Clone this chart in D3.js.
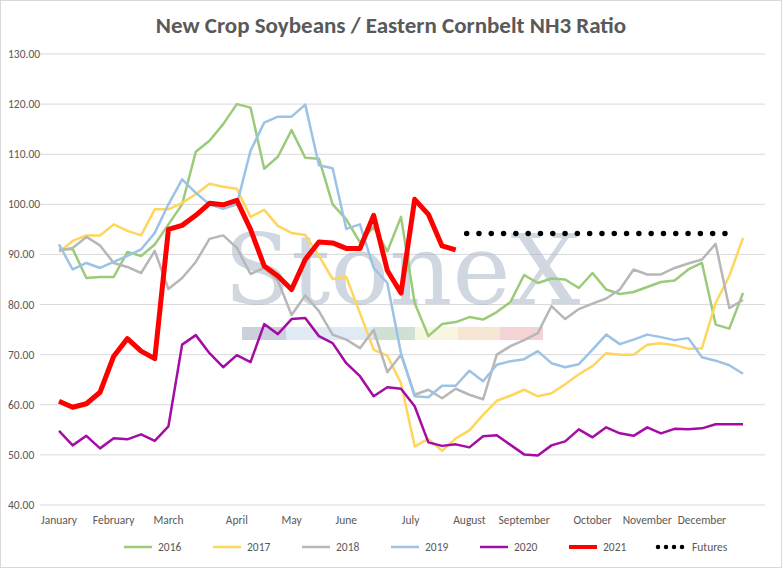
<!DOCTYPE html>
<html>
<head>
<meta charset="utf-8">
<script src="https://cdn.jsdelivr.net/npm/d3@7"></script>
<style>
  body { margin: 0; background: #fff; }
  svg { font-family: Calibri, Carlito, "Liberation Sans", Arial, sans-serif; }
</style>
</head>
<body>
<div id="chart"></div>
<script>
var months = ['January','February','March','April','May','June','July','August','September','October','November','December'];
var monthIdx = [0, 4, 8, 13, 17, 21, 25.7, 30, 34, 39, 43, 47];
var yTicks = [40,50,60,70,80,90,100,110,120,130];

var s2016 = [91,91.1,85.3,85.5,85.5,90.5,89.7,92,96,100,110.5,112.7,116,120,119.3,107.1,109.5,114.8,109.3,109.1,100,97,92.4,95.5,90.6,97.5,80.3,73.7,76.1,76.5,77.5,77,78.5,80.5,85.9,84.3,85.2,85,83.3,86.3,83,82.1,82.5,83.5,84.5,84.8,87,88.3,76,75.2,82.3];
var s2017 = [90.5,92.7,93.8,93.8,96,94.7,93.8,99,99,100.3,102,104.1,103.5,103.1,97.5,98.9,95.7,94.3,93.9,89.7,85.1,85.5,78.3,71,69.8,64.3,51.7,53.2,50.8,53.3,54.9,58,60.8,61.8,63,61.7,62.3,64.1,66.1,67.7,70.3,70,70,72,72.3,71.9,71.2,71.3,80.3,85.7,93.3];
var s2018 = [90.8,91.3,93.5,91.8,88.3,87.5,86.3,90.7,83.1,85.3,88.5,93.1,93.8,91.3,86.1,87.3,84.8,77.9,81.8,78.7,74,73,71.3,74.9,66.5,70,62,63,61.3,63.2,62,61.1,70,71.7,72.9,74.3,79.7,77.1,79.1,80.2,81.2,83,87,86,86,87.3,88.2,89,92.1,79.3,80.9];
var s2019 = [92,87,88.3,87.3,88.5,89.7,91,94.3,100,105,102.3,100,99.1,100,110.7,116.3,117.5,117.5,119.9,107.8,107.2,95.1,96,87.3,84.3,70.3,61.7,61.5,63.8,63.8,66.8,64.7,68,68.7,69.1,70.7,68.3,67.5,68.1,71,74,72.1,73,74,73.5,72.9,73.3,69.5,68.8,67.9,66.2];
var s2020 = [54.8,51.9,53.8,51.3,53.3,53.1,54.1,52.8,55.7,72,73.9,70.3,67.5,69.9,68.5,76.1,74.1,77.1,77.3,73.7,72.3,68.3,65.7,61.7,63.5,63.2,59.7,52.5,51.8,52.1,51.5,53.7,53.9,52,50.1,49.9,51.9,52.7,55.1,53.5,55.5,54.3,53.8,55.5,54.3,55.2,55.1,55.3,56.1,56.1,56.1];
var s2021 = [60.7,59.5,60.2,62.5,69.7,73.2,70.7,69.2,95,95.8,97.8,100.2,99.9,100.8,95,87.7,85.7,83,89,92.5,92.3,91.2,91.2,97.8,86.8,82.3,101,98,91.7,90.9];
var futuresStart = 29.8;
var futures = [94.2,94.2,94.2,94.2,94.2,94.2,94.2,94.2,94.2,94.2,94.2,94.2,94.2,94.2,94.2,94.2,94.2,94.2,94.2,94.2];

var series = [
  { name: '2016', values: s2016, color: '#9bcb7a', width: 2.5 },
  { name: '2017', values: s2017, color: '#ffd65c', width: 2.5 },
  { name: '2018', values: s2018, color: '#b7b7b7', width: 2.5 },
  { name: '2019', values: s2019, color: '#9cc3e6', width: 2.5 },
  { name: '2020', values: s2020, color: '#a50ca6', width: 2.5 },
  { name: '2021', values: s2021, color: '#ff0000', width: 5 }
];

var W = 782, H = 568;
var svg = d3.select('#chart').append('svg').attr('width', W).attr('height', H);

svg.append('rect').attr('x', 0.5).attr('y', 0.5).attr('width', W - 1).attr('height', H - 1)
  .attr('fill', '#fff').attr('stroke', '#d9d9d9');

var x = d3.scaleLinear().domain([0, 50]).range([59, 743]);
var y = d3.scaleLinear().domain([40, 130]).range([505, 54]);

svg.append('text').attr('x', W / 2).attr('y', 33).attr('text-anchor', 'middle')
  .attr('font-size', 23).attr('font-weight', 'bold').attr('fill', '#595959')
  .text('New Crop Soybeans / Eastern Cornbelt NH3 Ratio');

// grid
svg.append('g').selectAll('line').data(yTicks).enter().append('line')
  .attr('x1', 40).attr('x2', 765)
  .attr('y1', d => y(d)).attr('y2', d => y(d))
  .attr('stroke', '#d9d9d9').attr('stroke-width', 1);

svg.append('g').selectAll('text').data(yTicks).enter().append('text')
  .attr('x', 8).attr('y', d => y(d) + 4)
  .attr('font-size', 11.5).attr('fill', '#595959')
  .text(d => d.toFixed(2));

svg.append('g').selectAll('text').data(months).enter().append('text')
  .attr('x', (d, i) => x(monthIdx[i])).attr('y', 524).attr('text-anchor', 'middle')
  .attr('font-size', 11.5).attr('fill', '#595959')
  .text(d => d);

// watermark
var wm = svg.append('g').attr('opacity', 0.55);
wm.append('text').attr('x', 402).attr('y', 304).attr('text-anchor', 'middle')
  .attr('font-family', '"DejaVu Serif", "Liberation Serif", serif').attr('font-size', 98)
  .attr('fill', '#aab7c7').text('StoneX');
var wmColors = ['#9fadc0', '#c7d9ec', '#a9c9b0', '#f3efc8', '#f2d1b0', '#eab0b0'];
var wmEdges = [242, 286, 373, 415, 458, 500, 543];
wm.selectAll('rect').data(wmColors).enter().append('rect')
  .attr('x', (d, i) => wmEdges[i]).attr('y', 327)
  .attr('width', (d, i) => wmEdges[i + 1] - wmEdges[i]).attr('height', 13)
  .attr('fill', d => d);

var line = d3.line().x((d, i) => x(i)).y(d => y(d));

svg.append('g').selectAll('path').data(series).enter().append('path')
  .attr('d', d => line(d.values))
  .attr('fill', 'none').attr('stroke', d => d.color)
  .attr('stroke-width', d => d.width).attr('stroke-linejoin', 'round');

svg.append('path')
  .attr('d', d3.line().x((d, i) => x(futuresStart + i)).y(d => y(d))(futures))
  .attr('fill', 'none').attr('stroke', '#000').attr('stroke-width', 5.5)
  .attr('stroke-linecap', 'round').attr('stroke-dasharray', '0,12.3');

// legend
var legendItems = series.map(s => ({ name: s.name, color: s.color, width: s.width, dash: null }));
legendItems.push({ name: 'Futures', color: '#000', width: 4.5, dash: '0,8' });
var lg = svg.append('g').selectAll('g').data(legendItems).enter().append('g')
  .attr('transform', (d, i) => 'translate(' + (122 + i * 89) + ',547)');
lg.append('line').attr('x1', 2).attr('x2', 30)
  .attr('stroke', d => d.color).attr('stroke-width', d => d.width == 5 ? 4 : (d.dash ? d.width : 2.5))
  .attr('stroke-linecap', d => d.dash ? 'round' : 'butt')
  .attr('stroke-dasharray', d => d.dash);
lg.append('text').attr('x', 36).attr('y', 4).attr('font-size', 11.5).attr('fill', '#595959')
  .text(d => d.name);
</script>
</body>
</html>
